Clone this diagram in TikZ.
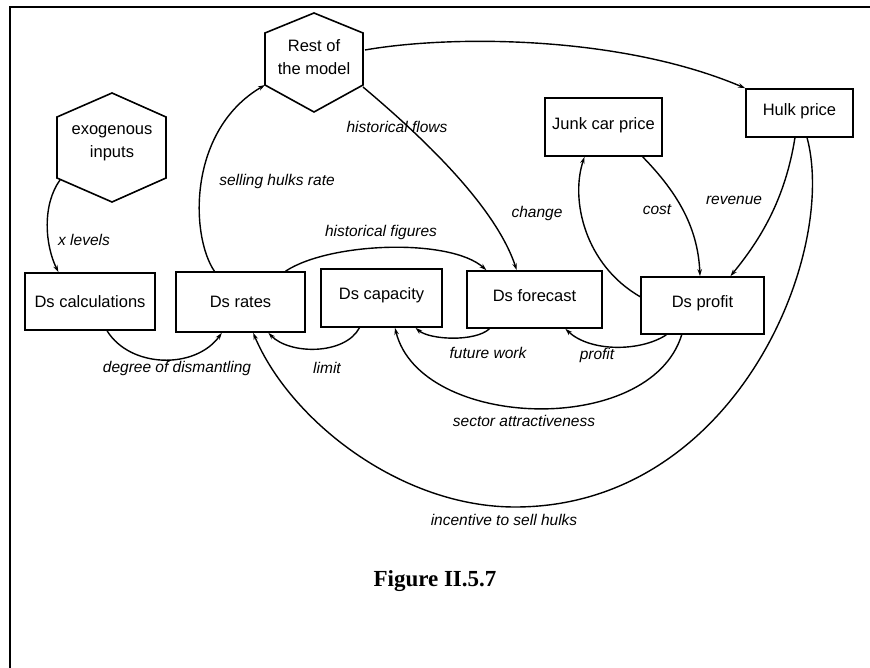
\documentclass[tikz,border=0pt]{standalone}
\usepackage{fontspec}
\setmainfont{Liberation Sans}
\newfontfamily\capfont{Liberation Serif}
\usetikzlibrary{calc,arrows.meta}
\begin{document}
\begin{tikzpicture}[x=1pt,y=-1pt,
  box/.style={draw, line width=1.7pt, inner sep=0pt, font=\fontsize{16.5}{18}\selectfont},
  hextext/.style={align=center, inner sep=0pt, font=\fontsize{16.5}{23}\selectfont},
  lbl/.style={font=\fontsize{15.5}{17}\selectfont\itshape, inner sep=1pt},
  link/.style={line width=1.4pt, -{Stealth[length=7pt,width=4.5pt]}},
  hex/.style={line width=1.6pt, line join=miter}]
\useasboundingbox (0,0) rectangle (870,668);
% frame
\draw[line width=2.5pt] (10,668) -- (10,7) -- (870,7);

% hexagons
\draw[hex] (314,13) -- (363,33) -- (363,85) -- (314,112) -- (265,85) -- (265,33) -- cycle;
\node[hextext] (rest) at (314,57) {Rest of\\the model};
\coordinate (restLL) at (265,85);
\coordinate (restLR) at (363,87);
\coordinate (restR) at (365,50);

\draw[hex] (112,93) -- (166,117) -- (166,178) -- (112,202) -- (57,178) -- (57,117) -- cycle;
\node[hextext] (exo) at (112,143) {exogenous\\inputs};
\coordinate (exoS) at (60,180);

% boxes
\node[box, minimum width=130pt, minimum height=57pt] (calc) at (90,301.5) {Ds calculations};
\node[box, minimum width=129pt, minimum height=60pt] (rates) at (240.5,302) {Ds rates};
\node[box, minimum width=121pt, minimum height=58pt, text depth=9pt] (cap) at (381.5,298) {Ds capacity};
\node[box, minimum width=135pt, minimum height=57pt, text depth=7pt] (fore) at (534.5,299.5) {Ds forecast};
\node[box, minimum width=123pt, minimum height=57pt, text depth=7pt] (profit) at (702.5,305.5) {Ds profit};
\node[box, minimum width=117pt, minimum height=58pt, text depth=7pt] (junk) at (603.5,127) {Junk car price};
\node[box, minimum width=107pt, minimum height=48pt, text depth=7pt] (hulk) at (799.5,113) {Hulk price};

% links
\draw[link] (exoS) .. controls (42,205) and (45,245) .. ($(calc.north west)!0.26!(calc.north east)$);
\draw[link] ($(rates.north west)!0.30!(rates.north east)$) .. controls (190,235) and (188,130) .. (restLL);
\draw[link] (restLR) .. controls (420,135) and (495,205) .. ($(fore.north west)!0.37!(fore.north east)$);
\draw[link] (restR) .. controls (450,35) and (620,35) .. (hulk.north west);
\draw[link] ($(rates.north west)!0.845!(rates.north east)$) .. controls (330,242) and (450,238) .. ($(fore.north west)!0.148!(fore.north east)$);
\draw[link] ($(calc.south west)!0.63!(calc.south east)$) .. controls (130,368) and (195,370) .. ($(rates.south west)!0.357!(rates.south east)$);
\draw[link] ($(cap.south west)!0.32!(cap.south east)$) .. controls (345,355) and (290,355) .. ($(rates.south west)!0.713!(rates.south east)$);
\draw[link] ($(fore.south west)!0.17!(fore.south east)$) .. controls (475,342) and (430,340) .. ($(cap.south west)!0.777!(cap.south east)$);
\draw[link] ($(profit.south west)!0.21!(profit.south east)$) .. controls (640,352) and (590,352) .. ($(fore.south west)!0.726!(fore.south east)$);
\draw[link] ($(profit.south west)!0.333!(profit.south east)$) .. controls (650,438) and (420,430) .. ($(cap.south west)!0.61!(cap.south east)$);
\coordinate (bottomC) at (515,507);
\draw[link] ($(hulk.south west)!0.57!(hulk.south east)$) .. controls (838,255) and (735,507) .. (bottomC) .. controls (400,507) and (290,420) .. ($(rates.south west)!0.597!(rates.south east)$);
\draw[link] ($(hulk.south west)!0.458!(hulk.south east)$) .. controls (785,200) and (760,240) .. ($(profit.north west)!0.724!(profit.north east)$);
\draw[link] ($(junk.south west)!0.83!(junk.south east)$) .. controls (680,195) and (698,230) .. ($(profit.north west)!0.48!(profit.north east)$);
\draw[link] ($(profit.north west)!0.35!(profit.south west)$) .. controls (585,265) and (570,200) .. ($(junk.south west)!0.34!(junk.south east)$);

% labels
\node[lbl] (lxl) at (84,240) {x levels};
\node[lbl] (lshr) at (277,181) {selling hulks rate};
\node[lbl] (lhfl) at (397,127) {historical flows};
\node[lbl] (lhfi) at (381,232) {historical figures};
\node[lbl] (ldd) at (177,368) {degree of dismantling};
\node[lbl] (llim) at (327,368) {limit};
\node[lbl] (lfw) at (488,353) {future work};
\node[lbl] (lpr) at (597,355) {profit};
\node[lbl] (lsa) at (524,421) {sector attractiveness};
\node[lbl] (lin) at (504,520) {incentive to sell hulks};
\node[lbl] (lch) at (537,213) {change};
\node[lbl] (lco) at (657,210) {cost};
\node[lbl] (lre) at (734,200) {revenue};

% caption
\node[font=\capfont\bfseries\fontsize{23}{26}\selectfont] (figcap) at (435,581) {Figure II.5.7};
\end{tikzpicture}
\end{document}
